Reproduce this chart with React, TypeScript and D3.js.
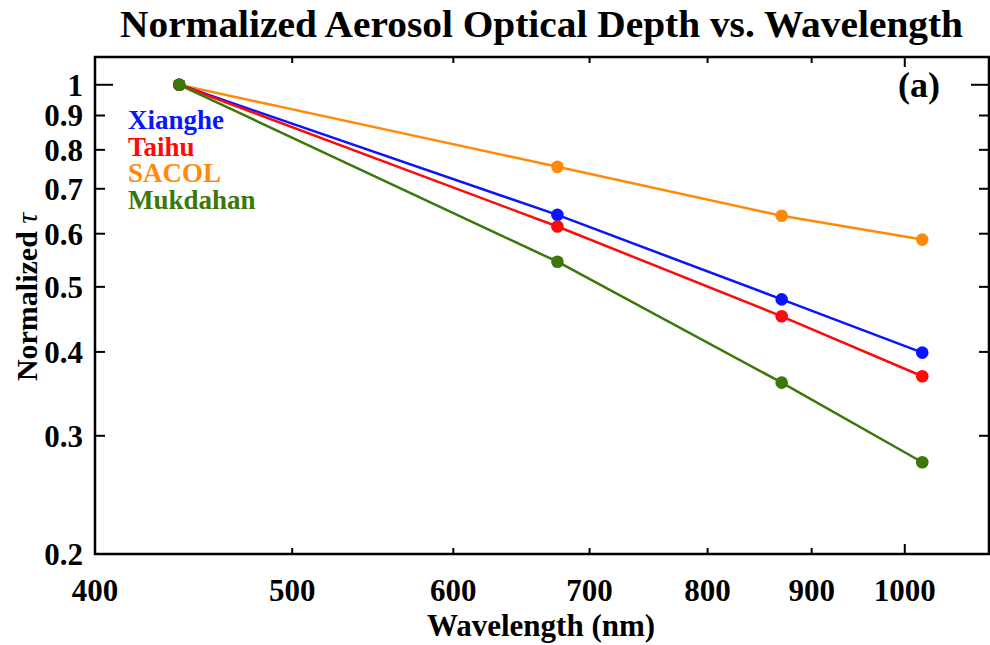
import React, { useEffect, useRef } from 'react';
import * as d3 from 'd3';

const wavelengths = [440, 675, 870, 1020];
const xianghe = [1, 0.64, 0.479, 0.399];
const taihu = [1, 0.615, 0.452, 0.368];
const sacol = [1, 0.755, 0.638, 0.588];
const mukdahan = [1, 0.545, 0.36, 0.274];

const siteNames = ['Xianghe', 'Taihu', 'SACOL', 'Mukdahan'];
const siteColors = ['#0a14ff', '#ff0a0a', '#ff8a0a', '#3b780a'];

const xTicks = [400, 500, 600, 700, 800, 900, 1000];
const yTicks = [0.2, 0.3, 0.4, 0.5, 0.6, 0.7, 0.8, 0.9, 1];

const FONT = '"Liberation Serif", "Times New Roman", serif';

const App: React.FC = () => {
  const svgRef = useRef<SVGSVGElement | null>(null);

  useEffect(() => {
    if (!svgRef.current) return;
    const width = 990;
    const height = 645;
    const svg = d3.select(svgRef.current).attr('width', width).attr('height', height);
    svg.selectAll('*').remove();

    const left = 95, right = 989, top = 57, bottom = 554;

    const x = d3.scaleLog().domain([400, 1100]).range([left, right]);
    const y = d3.scaleLog().domain([0.2, 1.1]).range([bottom, top]);

    svg.append('rect').attr('width', width).attr('height', height).attr('fill', 'white');

    // title
    svg.append('text')
      .attr('x', 120).attr('y', 37)
      .attr('textLength', 843).attr('lengthAdjust', 'spacingAndGlyphs')
      .style('font-family', FONT).style('font-weight', 'bold').style('font-size', '37px')
      .text('Normalized Aerosol Optical Depth vs. Wavelength');

    // frame
    svg.append('rect')
      .attr('x', left).attr('y', top)
      .attr('width', right - left).attr('height', bottom - top)
      .attr('fill', 'none').attr('stroke', 'black').attr('stroke-width', 2.5);

    const axes = svg.append('g').attr('stroke', 'black').attr('stroke-width', 2);

    xTicks.forEach(t => {
      if (t === 400) return;
      const len = t === 1000 ? 10 : 6;
      axes.append('line').attr('x1', x(t)).attr('x2', x(t)).attr('y1', bottom).attr('y2', bottom - len);
      axes.append('line').attr('x1', x(t)).attr('x2', x(t)).attr('y1', top).attr('y2', top + len);
    });
    yTicks.forEach(t => {
      if (t === 0.2) return;
      const len = t === 1 ? 18 : 10;
      axes.append('line').attr('x1', left).attr('x2', left + len).attr('y1', y(t)).attr('y2', y(t));
      axes.append('line').attr('x1', right).attr('x2', right - len).attr('y1', y(t)).attr('y2', y(t));
    });

    svg.append('g').selectAll('text').data(xTicks).enter().append('text')
      .attr('x', d => x(d)).attr('y', 601)
      .attr('text-anchor', 'middle')
      .style('font-family', FONT).style('font-weight', 'bold').style('font-size', '31px')
      .text(d => String(d));

    svg.append('g').selectAll('text').data(yTicks).enter().append('text')
      .attr('x', 83).attr('y', d => y(d)).attr('dy', '0.35em')
      .attr('text-anchor', 'end')
      .style('font-family', FONT).style('font-weight', 'bold').style('font-size', '31px')
      .text(d => String(d));

    svg.append('text')
      .attr('x', 541).attr('y', 636)
      .attr('text-anchor', 'middle')
      .style('font-family', FONT).style('font-weight', 'bold').style('font-size', '31px')
      .text('Wavelength (nm)');

    const yl = svg.append('text')
      .attr('transform', `translate(37,297) rotate(-90)`)
      .attr('text-anchor', 'middle')
      .style('font-family', FONT).style('font-weight', 'bold').style('font-size', '30px');
    yl.append('tspan').text('Normalized ');
    yl.append('tspan').style('font-style', 'italic').style('font-weight', 'normal').text('τ');

    svg.append('text')
      .attr('x', 940).attr('y', 97)
      .attr('text-anchor', 'end')
      .style('font-family', FONT).style('font-weight', 'bold').style('font-size', '36px')
      .text('(a)');

    const series = [xianghe, taihu, sacol, mukdahan];
    const line = d3.line<number>().x((_, i) => x(wavelengths[i])).y(d => y(d));

    // Mukdahan drawn last so its first point sits on top
    const order = [2, 0, 1, 3];
    order.forEach(si => {
      const vals = series[si];
      svg.append('path').datum(vals)
        .attr('d', line)
        .attr('fill', 'none')
        .attr('stroke', siteColors[si])
        .attr('stroke-width', 2.5);
      svg.append('g').selectAll('circle').data(vals).enter().append('circle')
        .attr('cx', (_, i) => x(wavelengths[i])).attr('cy', d => y(d))
        .attr('r', 6.3)
        .attr('fill', siteColors[si]);
    });

    // legend: tight line spacing as in the original
    svg.append('g').selectAll('text').data(siteNames).enter().append('text')
      .attr('x', 128).attr('y', (_, i) => 129 + i * 26.5)
      .attr('fill', (_, i) => siteColors[i])
      .style('font-family', FONT).style('font-weight', 'bold').style('font-size', '27px')
      .text(d => d);
  }, []);

  return <svg ref={svgRef} style={{ position: 'absolute', left: 0, top: 0 }}></svg>;
};

export default App;
